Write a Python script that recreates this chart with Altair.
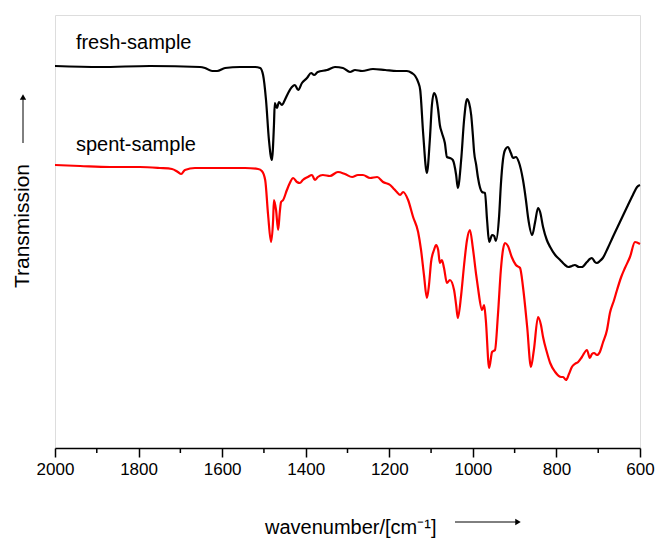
import altair as alt
import pandas as pd

# ---- data ----
fresh_wn = [2000, 1892, 1773, 1653, 1641, 1624, 1612, 1593, 1557, 1521, 1509, 1502, 1495, 1488, 1481,
            1476, 1474, 1469, 1464, 1457, 1450, 1442, 1433, 1426, 1418, 1409, 1397, 1387, 1380, 1371,
            1349, 1330, 1311, 1294, 1282, 1265, 1239, 1210, 1182, 1158, 1146, 1138, 1131, 1126, 1119,
            1110, 1103, 1098, 1093, 1088, 1083, 1079, 1074, 1067, 1062, 1055, 1048, 1040, 1036, 1028,
            1021, 1014, 1009, 1004, 1000, 997, 992, 988, 978, 971, 966, 961, 954, 949, 945, 937, 933,
            928, 923, 916, 909, 904, 897, 890, 880, 873, 868, 858, 851, 844, 839, 832, 823, 815, 803,
            791, 782, 772, 763, 756, 746, 739, 727, 720, 715, 708, 703, 696, 689, 677, 665, 648, 631,
            617, 607, 600]
fresh_t = [382, 381, 382, 381, 380, 377, 377, 380, 381, 381, 380, 373, 348, 308, 288,
           323, 345, 340, 346, 343, 348, 355, 361, 363, 358, 365, 370, 375, 373, 376,
           378, 381, 380, 376, 378, 377, 379, 378, 377, 377, 375, 372, 366, 358, 315,
           275, 308, 343, 355, 351, 338, 323, 315, 305, 291, 290, 288, 273, 260, 288,
           328, 349, 345, 333, 313, 296, 283, 271, 256, 255, 228, 206, 213, 212, 207, 233, 263,
           288, 298, 301, 295, 290, 291, 286, 268, 248, 231, 213, 226, 240, 236, 221, 208, 201, 193,
           188, 184, 181, 182, 183, 181, 181, 186, 189, 190, 186, 185, 187, 190, 200, 211, 226, 241,
           253, 261, 263]

spent_wn = [2000, 1940, 1868, 1797, 1749, 1720, 1706, 1698, 1689, 1665, 1605, 1545, 1514, 1505, 1497,
            1490, 1483, 1478, 1476, 1471, 1466, 1462, 1459, 1454, 1445, 1438, 1430, 1421, 1414, 1407,
            1395, 1385, 1378, 1371, 1359, 1342, 1323, 1306, 1289, 1275, 1263, 1246, 1229, 1215, 1198,
            1191, 1182, 1174, 1167, 1155, 1143, 1131, 1124, 1117, 1110, 1105, 1100, 1093, 1088, 1083,
            1079, 1074, 1069, 1062, 1055, 1045, 1040, 1036, 1028, 1021, 1014, 1007, 1000, 992, 988,
            978, 973, 969, 961, 954, 947, 940, 933, 928, 923, 916, 907, 897, 887, 880, 870, 861, 854,
            844, 837, 832, 823, 815, 803, 789, 784, 777, 770, 763, 756, 748, 739, 727, 720, 715, 710,
            703, 696, 689, 679, 672, 662, 655, 645, 636, 624, 612, 600]
spent_t = [283, 282, 281, 281, 280, 279, 276, 274, 278, 280, 280, 280, 279, 277, 268,
           233, 206, 228, 248, 238, 218, 236, 246, 248, 258, 265, 270, 266, 265, 268,
           271, 273, 268, 271, 273, 272, 276, 274, 271, 273, 273, 270, 271, 266, 263,
           260, 256, 253, 256, 248, 231, 216, 198, 173, 150, 163, 186, 198, 203, 198,
           185, 188, 180, 165, 168, 158, 143, 130, 153, 183, 208, 218, 200, 173, 161,
           138, 143, 128, 80, 96, 98, 133, 178, 198, 205, 202, 191, 183, 180, 161, 121, 81, 98,
           131, 123, 111, 96, 85, 76, 71, 71, 68, 74, 81, 84, 86, 91, 98, 90, 94, 95,
           93, 96, 105, 118, 135, 148, 158, 171, 180, 191, 206, 204]

series_names = ["fresh-sample", "spent-sample"]
series_colors = ["#000000", "#ff0000"]
label_wn = [1950, 1950]
label_t = [405, 303]

major_ticks = [2000, 1800, 1600, 1400, 1200, 1000, 800, 600]
minor_ticks = [1900, 1700, 1500, 1300, 1100, 900, 700]

df = pd.concat([
    pd.DataFrame({"wn": fresh_wn, "t": fresh_t, "series": series_names[0]}),
    pd.DataFrame({"wn": spent_wn, "t": spent_t, "series": series_names[1]}),
])
labels_df = pd.DataFrame({"wn": label_wn, "t": label_t, "name": series_names})
minor_df = pd.DataFrame({"wn": minor_ticks})

FONT = "Liberation Sans"
xscale = alt.Scale(domain=[600, 2000], reverse=True, nice=False, zero=False)
yscale = alt.Scale(domain=[0, 433], nice=False, zero=False)

lines = alt.Chart(df).mark_line(strokeWidth=2.2, interpolate="monotone").encode(
    x=alt.X("wn:Q", scale=xscale,
            axis=alt.Axis(values=major_ticks, title=None, grid=False, format="d",
                          tickSize=9, tickWidth=1.5, tickColor="black",
                          domainColor="black", domainWidth=1.5,
                          labelFontSize=17, labelColor="black", labelFont=FONT,
                          labelFlush=False, labelPadding=4)),
    y=alt.Y("t:Q", scale=yscale, axis=None),
    color=alt.Color("series:N", scale=alt.Scale(domain=series_names, range=series_colors), legend=None),
    detail="series:N",
)

minor = alt.Chart(minor_df).mark_rule(color="black", strokeWidth=1.5).encode(
    x=alt.X("wn:Q", scale=xscale),
    y=alt.value(433), y2=alt.value(438),
)

labels = alt.Chart(labels_df).mark_text(align="left", baseline="middle", fontSize=20,
                                        font=FONT, color="black").encode(
    x=alt.X("wn:Q", scale=xscale), y=alt.Y("t:Q", scale=yscale), text="name:N")

ytitle = alt.Chart(pd.DataFrame({"s": ["Transmission"]})).mark_text(
    angle=270, align="center", baseline="middle", fontSize=21, font=FONT, color="black"
).encode(x=alt.value(-32), y=alt.value(211), text="s:N")

yarrow = alt.Chart(pd.DataFrame({"s": [0]})).mark_rule(color="black", strokeWidth=1).encode(
    x=alt.value(-32), y=alt.value(82), y2=alt.value(128))
yhead = alt.Chart(pd.DataFrame({"s": [0]})).mark_point(
    shape="triangle-up", filled=True, size=40, color="black", opacity=1).encode(
    x=alt.value(-32), y=alt.value(82))

xtitle = alt.Chart(pd.DataFrame({"s": ["wavenumber/[cm⁻¹]"]})).mark_text(
    align="left", baseline="middle", fontSize=20, font=FONT, color="black"
).encode(x=alt.value(210), y=alt.value(513), text="s:N")

xarrow = alt.Chart(pd.DataFrame({"s": [0]})).mark_rule(color="black", strokeWidth=1).encode(
    x=alt.value(400), x2=alt.value(463), y=alt.value(507))
xhead = alt.Chart(pd.DataFrame({"s": [0]})).mark_point(
    shape="triangle-right", filled=True, size=40, color="black", opacity=1).encode(
    x=alt.value(463), y=alt.value(507))

chart = alt.layer(lines, minor, labels, ytitle, yarrow, yhead, xtitle, xarrow, xhead).properties(
    width=585, height=433,
    padding={"left": 55, "top": 15, "right": 18, "bottom": 95},
    autosize=alt.AutoSizeParams(type="none"),
).configure_view(stroke="black", strokeWidth=1.5).configure(background="white")

chart.save("out.html", embed_options={"renderer": "svg", "actions": False})
